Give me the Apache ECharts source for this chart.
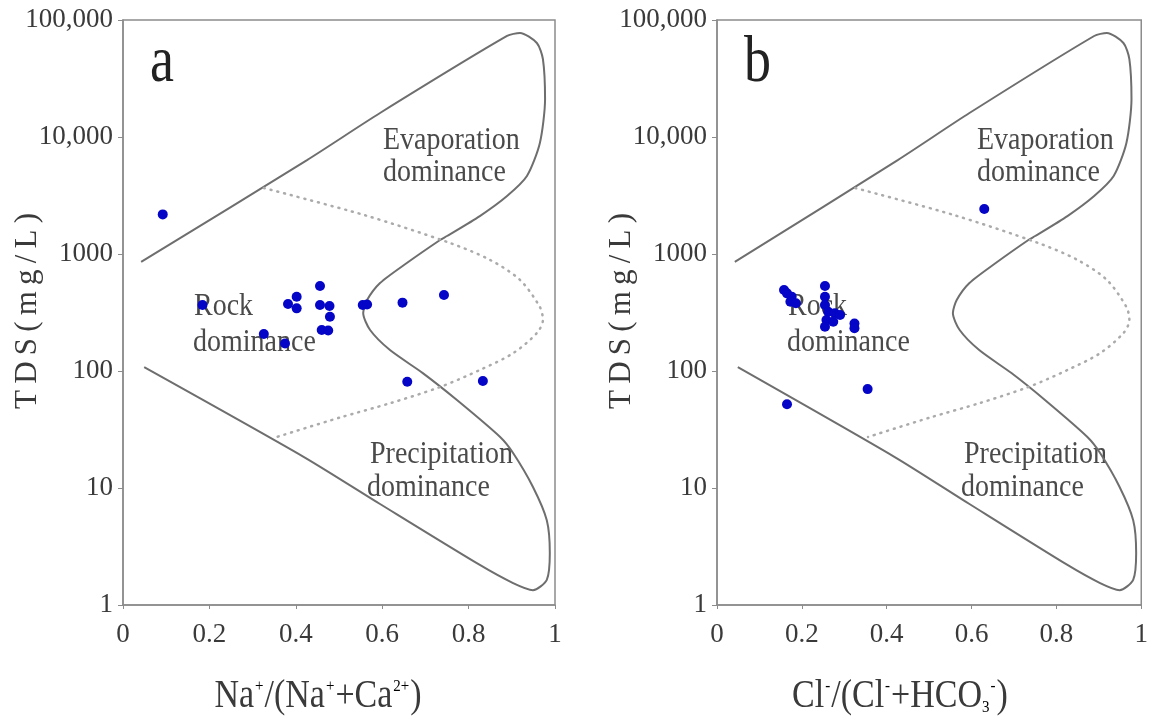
<!DOCTYPE html>
<html>
<head>
<meta charset="utf-8">
<script src="https://cdn.jsdelivr.net/npm/echarts@6/dist/echarts.min.js"></script>
<style>html,body{margin:0;padding:0;background:#fff}#c{width:1151px;height:722px}</style>
</head>
<body>
<div id="c"></div>
<script>
// ---- data ----
const xTickLabels = ['0', '0.2', '0.4', '0.6', '0.8', '1'];
const yTickLabels = ['1', '10', '100', '1000', '10,000', '100,000'];

// Gibbs boundary (solid) – same template in both panels
const boundaryX = [0.042, 0.426, 0.595, 0.889, 0.919, 0.958, 0.972, 0.977, 0.965, 0.935, 0.889, 0.826, 0.75, 0.734, 0.657, 0.595, 0.565, 0.556, 0.572, 0.618, 0.694, 0.773, 0.873, 0.903, 0.949, 0.981, 0.988, 0.981, 0.949, 0.903, 0.826, 0.595, 0.419, 0.049];
const boundaryTDS = [855, 6350, 16030, 73000, 77400, 63600, 46400, 21100, 8890, 4640, 3130, 2110, 1425, 1318, 838, 565, 404, 313, 224, 151, 96, 56.5, 27.3, 19.9, 10.2, 5.3, 2.78, 1.64, 1.34, 1.54, 2.2, 7.3, 18.4, 108];

// Gibbs boundary (dotted)
const dottedX = [0.326, 0.558, 0.757, 0.850, 0.919, 0.965, 0.972, 0.958, 0.903, 0.826, 0.734, 0.618, 0.502, 0.356];
const dottedTDS = [3660, 2155, 1242, 889, 600, 352, 273, 211, 142, 102, 73, 53, 40, 27.3];

// panel a samples: Na+/(Na+ + Ca2+)
const naRatio = [0.092, 0.184, 0.326, 0.375, 0.382, 0.402, 0.402, 0.456, 0.456, 0.478, 0.479, 0.460, 0.475, 0.555, 0.565, 0.647, 0.743, 0.658, 0.833];
const tdsA    = [2180, 367, 207, 172, 374, 431, 343, 533, 367, 359, 291, 224, 222, 367, 370, 384, 446, 81, 82];

// panel b samples: Cl-/(Cl- + HCO3-)
const clRatio = [0.630, 0.158, 0.165, 0.176, 0.173, 0.186, 0.2545, 0.2545, 0.2545, 0.262, 0.278, 0.258, 0.274, 0.2545, 0.290, 0.324, 0.324, 0.355, 0.165];
const tdsB    = [2425, 492, 461, 432, 391, 379, 533, 431, 367, 321, 311, 273, 264, 239, 301, 255, 232, 70, 52];

const zip = (xs, ys) => xs.map((x, i) => [x, ys[i]]);

// ---- chart ----
const chart = echarts.init(document.getElementById('c'), null, {renderer: 'canvas'});
const FONT = '"Liberation Serif", "Times New Roman", serif';
const AX = '#8c8c8c';
const panels = [{left: 123, width: 432}, {left: 717, width: 431}];

function xAxis(i) {
  return {
    type: 'value', gridIndex: i, min: 0, max: 1, interval: 0.2,
    axisLine: {show: true, lineStyle: {color: AX, width: 1.5}},
    axisTick: {show: true, length: 4, lineStyle: {color: AX}},
    splitLine: {show: false},
    axisLabel: {margin: 16, fontFamily: FONT, fontSize: 27, color: '#3a3a3a',
      formatter: v => xTickLabels[Math.round(v / 0.2)]}
  };
}
function yAxis(i) {
  return {
    type: 'log', logBase: 10, gridIndex: i, min: 1, max: 100000,
    axisLine: {show: true, lineStyle: {color: AX, width: 1.5}},
    axisTick: {show: true, length: 5, lineStyle: {color: AX}},
    minorTick: {show: false},
    splitLine: {show: false},
    axisLabel: {margin: 10, fontFamily: FONT, fontSize: 27, color: '#3a3a3a',
      formatter: v => yTickLabels[Math.round(Math.log10(v))]}
  };
}
function series(i, xs, ys) {
  return [
    {type: 'line', xAxisIndex: i, yAxisIndex: i, data: zip(boundaryX, boundaryTDS), smooth: 0.25,
     showSymbol: false, silent: true, lineStyle: {color: '#6e6e6e', width: 2}},
    {type: 'line', xAxisIndex: i, yAxisIndex: i, data: zip(dottedX, dottedTDS), smooth: 0.3,
     showSymbol: false, silent: true, lineStyle: {color: '#ababab', width: 2.5, type: [1, 6], cap: 'round'}},
    {type: 'scatter', xAxisIndex: i, yAxisIndex: i, data: zip(xs, ys), symbolSize: 10,
     itemStyle: {color: '#0505c8', opacity: 1}, z: 5}
  ];
}

const txt = (x, y, text, size, extra) => Object.assign({
  type: 'text', x: x, y: y, scaleY: 1.15,
  style: {text: text, fontFamily: FONT, fontSize: size, fill: '#4a4a4a', textVerticalAlign: 'middle'}
}, extra || {});

const graphics = [];
const letters = ['a', 'b'];
panels.forEach((p, i) => {
  const o = p.left - 123;
  graphics.push(txt(150 + o, 64, letters[i], 54, {style: {text: letters[i], fontFamily: FONT, fontSize: 54, fill: '#222', textVerticalAlign: 'middle'}, scaleY: 1.2}));
  graphics.push(txt(383 + o, 141, 'Evaporation', 28));
  graphics.push(txt(383 + o, 173, 'dominance', 28));
  graphics.push(txt(194 + o, 307, 'Rock', 28));
  graphics.push(txt(193 + o, 343, 'dominance', 28));
  graphics.push(txt(370 + o, 455, 'Precipitation', 28));
  graphics.push(txt(367 + o, 488, 'dominance', 28));
  graphics.push({type: 'text', x: 28 + o, y: 311, rotation: Math.PI / 2,
    style: {text: 'T\u2009D\u2009S\u2009(\u2009m\u2009g\u2009/\u2009L\u2009)', fontFamily: FONT, fontSize: 31, fill: '#3a3a3a',
      textAlign: 'center', textVerticalAlign: 'middle'}});
});
const rich = {
  m: {fontFamily: FONT, fontSize: 34, fill: '#3a3a3a', color: '#3a3a3a'},
  s: {fontFamily: FONT, fontSize: 15, color: '#3a3a3a', verticalAlign: 'top', padding: [0, 1, 0, 1]},
  d: {fontFamily: FONT, fontSize: 15, color: '#3a3a3a', verticalAlign: 'bottom'}
};
graphics.push({type: 'text', x: 318, y: 697, scaleY: 1.15,
  style: {text: '{m|Na}{s|+}{m|/(Na}{s|+}{m|+Ca}{s|2+}{m|)}', rich: rich, textAlign: 'center', textVerticalAlign: 'middle'}});
graphics.push({type: 'text', x: 900, y: 697, scaleY: 1.15,
  style: {text: '{m|Cl}{s|-}{m|/(Cl}{s|-}{m|+HCO}{d|3}{s|-}{m|)}', rich: rich, textAlign: 'center', textVerticalAlign: 'middle'}});

chart.setOption({
  animation: false,
  backgroundColor: '#fff',
  grid: panels.map(p => ({left: p.left, top: 20, width: p.width, height: 585, show: true,
    borderColor: AX, borderWidth: 1.5, backgroundColor: 'transparent'})),
  xAxis: [xAxis(0), xAxis(1)],
  yAxis: [yAxis(0), yAxis(1)],
  series: [...series(0, naRatio, tdsA), ...series(1, clRatio, tdsB)],
  graphic: graphics
});
</script>
</body>
</html>
